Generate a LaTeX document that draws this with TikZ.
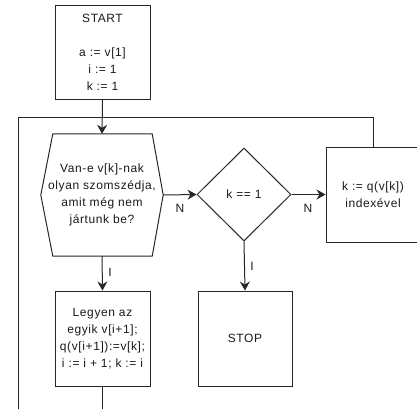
\documentclass[tikz,border=0pt]{standalone}
\usepackage{fontspec}
\setmainfont{Liberation Sans}[LetterSpace=5]
\usetikzlibrary{arrows.meta,shapes.geometric,calc}

\begin{document}
\begin{tikzpicture}[x=1pt,y=-1pt,
  every node/.style={font=\fontsize{12}{17}\selectfont, text=black!90},
  line/.style={draw=black!85, line width=1pt},
  arr/.style={line, -{Stealth[length=9pt,width=10pt,inset=3pt]}},
  block/.style={line, rectangle, inner sep=0pt, align=center},
  lbl/.style={inner sep=0pt}
]
\useasboundingbox (0,0) rectangle (417,408);

% process boxes
\node[block, minimum width=95, minimum height=94] (start) at (102.5,52)
  {START\\[17pt]a := v[1]\\i := 1\\k := 1};
\node[block, minimum width=95, minimum height=95] (leg) at (102.5,338.5)
  {Legyen az\\egyik v[i+1];\\q(v[i+1]):=v[k];\\i := i + 1; k := i};
\node[block, minimum width=94, minimum height=95] (stop) at (245,338.5) {STOP};
\node[block, minimum width=94, minimum height=95] (rbox) at (373,194.5)
  {k := q(v[k])\\indexével};

% decision: hexagon
\node[inner sep=0pt, minimum width=122, minimum height=122, align=center] (hex) at (102,195)
  {Van-e v[k]-nak\\olyan szomszédja,\\amit még nem\\jártunk be?};
\draw[line] (hex.west) -- ($(hex.north west)+(12,0)$) -- ($(hex.north east)+(-11,0)$)
  -- (hex.east) -- ($(hex.south east)+(-11,0)$) -- ($(hex.south west)+(12,0)$) -- cycle;

% decision: diamond
\node[line, diamond, inner sep=0pt, minimum width=94, minimum height=93] (dia) at (244,194.5) {k == 1};

% flow
\draw[arr] (start.south) -- (hex.north);
\draw[arr] (hex.east) -- (dia.west);
\draw[arr] (dia.east) -- (rbox.west);
\draw[arr] (hex.south) -- (leg.north);
\draw[arr] (dia.south) -- (stop.north);

\node[lbl] (n1) at (180,208) {N};
\node[lbl] (n2) at (308,208) {N};
\node[lbl] (i1) at (110,272) {I};
\node[lbl] (i2) at (252,266) {I};

% return loops
\coordinate (join) at (102.5,117);
\coordinate (low) at (102.5,420);
\coordinate (left) at (18,420);
\draw[line] (leg.south) -- (low) -- (left) |- (join);
\draw[line] (rbox.north) |- (join);
\end{tikzpicture}
\end{document}
